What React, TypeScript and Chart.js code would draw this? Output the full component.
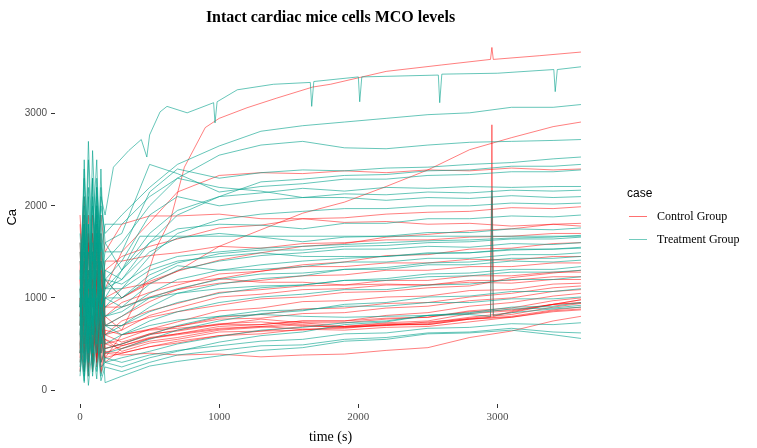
import React, { useEffect, useRef } from "react";
import { Chart, registerables } from "chart.js";

Chart.register(...registerables);

// shared time grid (s) for most traces
const times = [0, 30, 60, 90, 120, 150, 180, 300, 500, 700, 1000, 1300, 1600, 1900, 2200, 2500, 2800, 3100, 3400, 3600];

const controlSeries: number[][] = [
  [1500, 700, 1900, 400, 1300, 900, 1200, 1000, 1180, 1290, 1560, 1740, 1920, 2040, 2210, 2390, 2610, 2740, 2860, 2910],
  [900, 1700, 500, 1400, 2000, 800, 1100, 1500, 1820, 2150, 2330, 2360, 2350, 2380, 2360, 2390, 2380, 2410, 2390, 2400],
  [1200, 400, 1600, 900, 1800, 600, 1300, 1450, 1560, 1640, 1760, 1790, 1860, 1870, 1910, 1930, 1940, 1980, 1970, 1990],
  [600, 1400, 300, 1100, 700, 1500, 900, 1000, 1160, 1290, 1410, 1490, 1560, 1590, 1660, 1690, 1730, 1750, 1800, 1810],
  [1800, 900, 1300, 500, 1600, 1000, 1400, 1400, 1460, 1490, 1560, 1540, 1590, 1600, 1630, 1630, 1660, 1670, 1700, 1700],
  [400, 1200, 800, 1900, 300, 1100, 700, 800, 960, 1090, 1210, 1290, 1360, 1390, 1460, 1470, 1530, 1540, 1590, 1600],
  [1000, 300, 1200, 600, 1500, 400, 900, 900, 1010, 1090, 1160, 1190, 1240, 1250, 1300, 1300, 1340, 1340, 1380, 1380],
  [700, 1500, 250, 1300, 500, 1700, 600, 750, 860, 940, 1060, 1090, 1130, 1140, 1190, 1190, 1240, 1240, 1280, 1280],
  [300, 900, 1600, 400, 1100, 500, 800, 650, 810, 890, 1010, 1040, 1090, 1100, 1140, 1140, 1190, 1190, 1230, 1230],
  [1300, 500, 900, 200, 1400, 700, 500, 550, 660, 740, 860, 890, 960, 970, 1010, 1020, 1080, 1090, 1150, 1160],
  [800, 1800, 400, 1000, 250, 1200, 450, 500, 610, 690, 790, 820, 880, 890, 940, 950, 1010, 1050, 1110, 1130],
  [500, 200, 1100, 700, 1600, 300, 650, 600, 660, 690, 770, 780, 830, 840, 890, 910, 970, 1000, 1070, 1090],
  [1600, 600, 1000, 300, 800, 1300, 500, 450, 560, 610, 690, 710, 750, 750, 810, 840, 910, 950, 1020, 1050],
  [200, 1000, 500, 1400, 350, 900, 400, 480, 570, 610, 670, 690, 730, 730, 770, 790, 860, 890, 970, 1000],
  [1100, 350, 1500, 600, 1000, 200, 550, 420, 510, 550, 630, 640, 690, 690, 730, 750, 830, 860, 930, 945],
  [900, 1300, 200, 800, 450, 1100, 350, 600, 650, 670, 710, 710, 750, 750, 780, 790, 850, 870, 930, 950],
  [400, 800, 150, 1200, 600, 300, 420, 400, 470, 510, 590, 610, 660, 670, 710, 710, 770, 790, 850, 870],
  [600, 200, 900, 350, 700, 180, 400, 380, 400, 380, 390, 360, 380, 390, 430, 460, 570, 640, 750, 800],
  [1400, 700, 1700, 1000, 300, 1300, 800, 950, 1060, 1140, 1260, 1290, 1340, 1340, 1380, 1380, 1420, 1410, 1450, 1450],
  [700, 1900, 600, 1200, 400, 1000, 600, 520, 610, 640, 710, 770, 730, 690, 720, 730, 790, 840, 930, 980],
  [350, 1100, 700, 250, 1300, 600, 300, 450, 530, 570, 650, 680, 710, 680, 710, 710, 770, 800, 870, 900],
  [1900, 1100, 600, 1500, 900, 400, 1000, 1100, 1160, 1170, 1210, 1170, 1170, 1140, 1150, 1140, 1170, 1160, 1200, 1200],
  [1300, 2100, 900, 1700, 1100, 1900, 1500, 1800, 1890, 1890, 1910, 1860, 1860, 1820, 1830, 1800, 1810, 1780, 1800, 1780],
  [800, 1400, 500, 1100, 300, 900, 450, 500, 600, 650, 720, 740, 700, 680, 700, 720, 780, 820, 900, 940],
  [450, 1500, 900, 300, 1200, 700, 550, 480, 560, 600, 660, 690, 660, 650, 680, 690, 740, 790, 860, 880],
];

const treatmentSeries: number[][] = [
  [1200, 2300, 700, 2600, 1500, 2000, 1700, 1900, 2200, 2450, 2650, 2810, 2870, 2910, 2950, 2990, 3010, 3070, 3070, 3100],
  [800, 1900, 400, 1700, 2500, 1000, 1400, 1600, 2000, 2300, 2550, 2660, 2700, 2630, 2620, 2660, 2690, 2700, 2710, 2720],
  [1500, 600, 2200, 900, 1800, 1200, 1500, 1500, 2150, 2400, 2300, 2360, 2390, 2380, 2410, 2420, 2450, 2470, 2510, 2530],
  [700, 2400, 1100, 1600, 600, 2200, 1600, 1700, 2450, 2350, 2150, 2210, 2240, 2290, 2290, 2330, 2340, 2370, 2370, 2390],
  [1100, 500, 1800, 700, 2000, 900, 1000, 1300, 1700, 1950, 2100, 2140, 2190, 2160, 2200, 2190, 2210, 2200, 2210, 2210],
  [400, 1600, 900, 2300, 700, 1700, 1200, 1400, 1900, 2100, 2000, 2060, 2090, 2130, 2120, 2150, 2140, 2170, 2160, 2170],
  [1300, 800, 2100, 500, 1500, 1100, 900, 1100, 1450, 1700, 1850, 1910, 1940, 1970, 1970, 2000, 2000, 2030, 2020, 2030],
  [600, 1800, 400, 1300, 2200, 800, 1100, 1200, 1500, 1650, 1700, 1660, 1610, 1660, 1670, 1710, 1710, 1750, 1740, 1760],
  [900, 300, 1500, 1100, 600, 1900, 800, 900, 1150, 1300, 1400, 1460, 1490, 1530, 1530, 1560, 1550, 1590, 1580, 1600],
  [1600, 700, 1200, 300, 1700, 500, 1000, 1000, 1200, 1350, 1300, 1310, 1340, 1390, 1390, 1430, 1430, 1470, 1470, 1490],
  [500, 1400, 200, 1000, 800, 1600, 700, 800, 1000, 1100, 1200, 1260, 1270, 1310, 1310, 1360, 1360, 1400, 1390, 1410],
  [1000, 200, 1300, 600, 1900, 400, 600, 700, 850, 950, 1050, 1110, 1140, 1190, 1210, 1260, 1270, 1310, 1310, 1340],
  [300, 1100, 700, 1500, 400, 1200, 500, 600, 750, 850, 950, 1010, 1040, 1090, 1090, 1140, 1150, 1200, 1200, 1230],
  [800, 150, 1000, 400, 1300, 300, 450, 500, 600, 700, 800, 860, 870, 910, 910, 950, 950, 990, 990, 1010],
  [250, 900, 300, 1100, 200, 700, 300, 350, 420, 500, 580, 650, 680, 730, 750, 810, 830, 880, 890, 920],
  [600, 100, 800, 250, 1000, 150, 350, 300, 380, 430, 480, 530, 550, 610, 620, 670, 680, 720, 710, 730],
  [150, 700, 50, 500, 120, 800, 80, 150, 260, 310, 370, 430, 460, 530, 550, 610, 620, 650, 600, 560],
  [500, 80, 900, 200, 600, 100, 250, 200, 300, 380, 430, 480, 490, 550, 570, 620, 630, 670, 630, 620],
  [1200, 2000, 600, 1500, 900, 2400, 1100, 1100, 1300, 1400, 1450, 1490, 1450, 1450, 1450, 1490, 1490, 1530, 1530, 1550],
  [700, 1300, 300, 900, 1700, 500, 700, 700, 900, 1050, 1150, 1210, 1240, 1310, 1330, 1380, 1390, 1430, 1430, 1450],
  [1000, 2100, 1400, 700, 2300, 1300, 1600, 1300, 1600, 1750, 1800, 1790, 1750, 1810, 1810, 1860, 1860, 1890, 1880, 1900],
  [1400, 900, 2500, 1200, 1900, 700, 1300, 1200, 1600, 1900, 2100, 2260, 2290, 2330, 2340, 2380, 2390, 2430, 2430, 2450],
  [900, 1700, 500, 1200, 2000, 900, 1000, 900, 1000, 1050, 1100, 1130, 1140, 1190, 1190, 1230, 1240, 1280, 1280, 1300],
  [400, 1000, 150, 800, 500, 1100, 400, 450, 550, 650, 750, 830, 860, 930, 950, 1010, 1020, 1070, 1070, 1100],
  [200, 600, 1000, 150, 700, 250, 300, 250, 350, 420, 520, 590, 630, 710, 740, 810, 840, 900, 910, 950],
  [1700, 1000, 2700, 1400, 2200, 1500, 1800, 1800, 2100, 2300, 2200, 2160, 2090, 2090, 2060, 2090, 2080, 2110, 2090, 2100],
  [1100, 1800, 700, 2000, 1300, 600, 1200, 1150, 1350, 1450, 1500, 1540, 1560, 1580, 1600, 1620, 1630, 1650, 1660, 1680],
  [600, 1500, 1000, 400, 1700, 900, 800, 850, 1050, 1200, 1300, 1360, 1400, 1430, 1450, 1480, 1490, 1520, 1530, 1540],
  [900, 2500, 1200, 700, 2100, 1000, 1200, 1000, 1250, 1380, 1480, 1520, 1520, 1560, 1570, 1600, 1610, 1640, 1640, 1660],
];

// traces with the one-sample jump near t = 2960 s
const spikeTimes = [0, 30, 60, 90, 120, 150, 180, 300, 500, 700, 1000, 1300, 1600, 1900, 2200, 2500, 2800, 2950, 2960, 2970, 3100, 3400, 3600];
const controlSpikeSeries: number[][] = [
  [1000, 400, 1300, 200, 900, 600, 350, 400, 470, 530, 590, 640, 650, 690, 700, 740, 770, 790, 2880, 800, 850, 930, 980],
  [500, 1200, 300, 1700, 600, 1400, 700, 700, 790, 850, 920, 990, 1010, 1060, 1070, 1110, 1130, 1170, 2100, 1180, 1220, 1270, 1300],
];
const treatmentSpikeValues = [1100, 300, 1800, 600, 1400, 900, 700, 600, 700, 760, 800, 820, 800, 790, 800, 810, 820, 800, 2170, 810, 840, 880, 900];

// highest control trace
const controlTopTimes = [0, 30, 60, 90, 120, 150, 180, 300, 450, 550, 650, 750, 900, 1000, 1200, 1414, 1672, 1800, 2200, 2600, 2950, 2960, 2970, 3300, 3600];
const controlTopValues = [1200, 500, 1700, 300, 1100, 800, 600, 650, 1100, 1550, 1850, 2420, 2850, 2950, 3065, 3170, 3290, 3320, 3460, 3530, 3590, 3720, 3590, 3630, 3670];

// highest treatment trace, with its downward glitches
const treatmentTopTimes = [0, 30, 60, 90, 120, 150, 180, 240, 350, 440, 480, 500, 575, 625, 770, 960, 970, 985, 1130, 1390, 1655, 1665, 1680, 2000, 2010, 2025, 2575, 2585, 2600, 3000, 3405, 3415, 3430, 3600];
const treatmentTopValues = [900, 1800, 400, 2300, 700, 2100, 1900, 2420, 2600, 2720, 2530, 2770, 3020, 3080, 3010, 3120, 2900, 3130, 3260, 3320, 3340, 3080, 3350, 3400, 3130, 3400, 3420, 3120, 3430, 3440, 3480, 3240, 3480, 3510];

// treatment trace that stays flat after ~430 s
const flatTimes = [0, 30, 60, 90, 120, 150, 180, 300, 430, 3600];
const flatValues = [900, 1600, 500, 2100, 800, 1400, 1100, 1300, 1670, 1670];

const xTicks = [0, 1000, 2000, 3000];
const yTicks = [0, 1000, 2000, 3000];

const CONTROL_COLOR = "rgba(255, 0, 0, 0.5)";
const TREATMENT_COLOR = "rgba(0, 160, 138, 0.6)";
const CONTROL_KEY = "#ff7070";
const TREATMENT_KEY = "#72cbbd";

const toPoints = (xs: number[], ys: number[]) => ys.map((y, i) => ({ x: xs[i], y }));

const trace = (xs: number[], ys: number[], color: string) => ({
  data: toPoints(xs, ys),
  borderColor: color,
  borderWidth: 1,
  pointRadius: 0,
  fill: false,
  tension: 0,
});

const App: React.FC = () => {
  const canvasRef = useRef<HTMLCanvasElement | null>(null);

  useEffect(() => {
    if (!canvasRef.current) return;

    // chart.js paints dataset 0 last, so the treatment traces go first to sit on top
    const datasets = [
      trace(treatmentTopTimes, treatmentTopValues, TREATMENT_COLOR),
      trace(flatTimes, flatValues, TREATMENT_COLOR),
      trace(spikeTimes, treatmentSpikeValues, TREATMENT_COLOR),
      ...treatmentSeries.map((v) => trace(times, v, TREATMENT_COLOR)),
      trace(controlTopTimes, controlTopValues, CONTROL_COLOR),
      ...controlSpikeSeries.map((v) => trace(spikeTimes, v, CONTROL_COLOR)),
      ...controlSeries.map((v) => trace(times, v, CONTROL_COLOR)),
    ];

    const chart = new Chart(canvasRef.current, {
      type: "line",
      data: { datasets },
      options: {
        responsive: false,
        animation: false,
        layout: { padding: { top: 30.5, right: 151, left: 0, bottom: 0 } },
        plugins: {
          legend: { display: false },
          title: { display: false },
          tooltip: { enabled: false },
        },
        scales: {
          x: {
            type: "linear",
            min: -180,
            max: 3780,
            border: { display: false },
            grid: { display: true, drawOnChartArea: false, drawTicks: true, tickLength: 4, color: "#333333" },
            afterBuildTicks: (s: any) => {
              s.ticks = xTicks.map((value) => ({ value }));
            },
            afterFit: (s: any) => {
              s.height = 44;
            },
            ticks: {
              color: "#4d4d4d",
              font: { family: "Liberation Serif", size: 11 },
              padding: 3,
              maxRotation: 0,
              callback: (v: any) => String(v),
            },
            title: {
              display: true,
              text: "time (s)",
              color: "#000000",
              font: { family: "Liberation Serif", size: 14 },
              padding: { top: 0, bottom: 2 },
            },
          },
          y: {
            type: "linear",
            min: -152,
            max: 3904,
            border: { display: false },
            grid: { display: true, drawOnChartArea: false, drawTicks: true, tickLength: 4, color: "#333333" },
            afterBuildTicks: (s: any) => {
              s.ticks = yTicks.map((value) => ({ value }));
            },
            afterFit: (s: any) => {
              s.width = 55;
            },
            ticks: {
              color: "#4d4d4d",
              font: { family: "Liberation Sans", size: 10 },
              padding: 4,
              callback: (v: any) => String(v),
            },
            title: {
              display: true,
              text: "Ca",
              color: "#000000",
              font: { family: "Liberation Sans", size: 13 },
              padding: { top: 5, bottom: 0 },
            },
          },
        },
      },
    });

    return () => {
      chart.destroy();
    };
  }, []);

  return (
    <div style={{ position: "fixed", left: 0, top: 0, width: 757, height: 448, background: "#ffffff" }}>
      <canvas ref={canvasRef} width={757} height={448} style={{ position: "absolute", left: 0, top: 0 }} />
      <div
        style={{
          position: "absolute",
          left: 0,
          top: 7,
          width: 661,
          textAlign: "center",
          font: "bold 16px 'Liberation Serif'",
          lineHeight: "20px",
          color: "#000",
        }}
      >
        Intact cardiac mice cells MCO levels
      </div>
      <div style={{ position: "absolute", left: 627, top: 185, font: "12px 'Liberation Sans'", lineHeight: "16px" }}>case</div>
      <div style={{ position: "absolute", left: 629, top: 216, width: 18, height: 1, background: CONTROL_KEY }} />
      <div style={{ position: "absolute", left: 629, top: 239, width: 18, height: 1, background: TREATMENT_KEY }} />
      <div style={{ position: "absolute", left: 657, top: 208, font: "12px 'Liberation Serif'", lineHeight: "16px" }}>
        Control Group
      </div>
      <div style={{ position: "absolute", left: 657, top: 231, font: "12px 'Liberation Serif'", lineHeight: "16px" }}>
        Treatment Group
      </div>
    </div>
  );
};

export default App;
